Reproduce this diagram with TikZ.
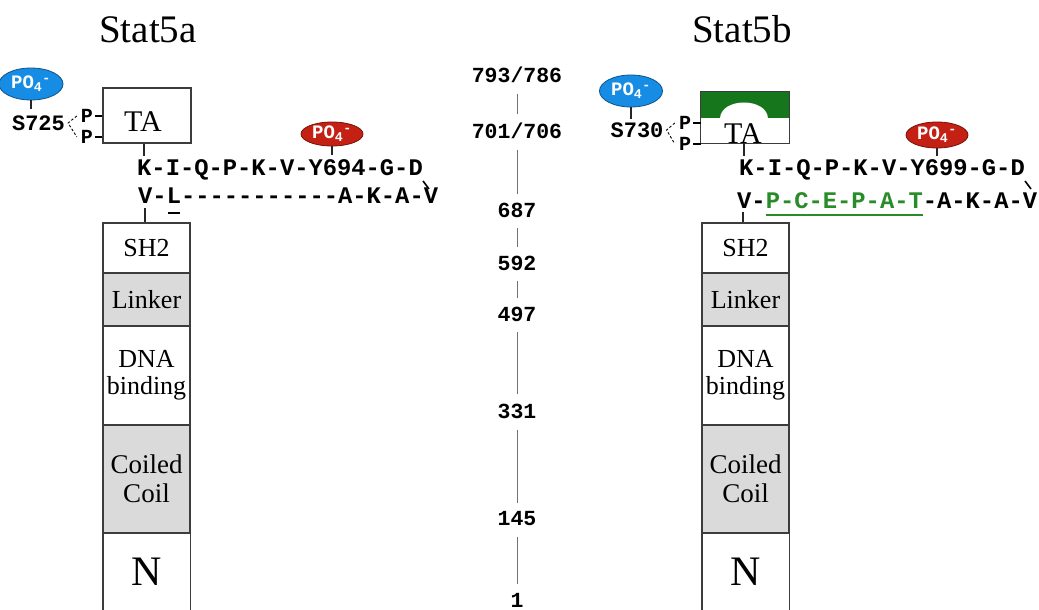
\documentclass[tikz,border=0pt]{standalone}
\usepackage{fontspec}
\setmainfont{Liberation Serif}
\setmonofont{Liberation Mono}
\usetikzlibrary{shapes.geometric,calc}
\definecolor{poblue}{RGB}{22,140,228}
\definecolor{pored}{RGB}{196,32,20}
\definecolor{tagreen}{RGB}{22,118,28}
\definecolor{seqgreen}{RGB}{40,140,40}
\definecolor{domgray}{RGB}{218,218,218}
\definecolor{edge}{RGB}{60,60,60}
\tikzset{
 title/.style={font=\fontsize{39}{44}\selectfont, inner sep=0, anchor=base},
 seq/.style={font=\fontsize{23.8}{28}\selectfont\ttfamily\bfseries, inner sep=0, anchor=base west},
 site/.style={font=\fontsize{22}{26}\selectfont\ttfamily\bfseries, inner sep=0},
 pp/.style={font=\fontsize{20}{24}\selectfont\ttfamily\bfseries, inner sep=0},
 num/.style={font=\fontsize{21.5}{26}\selectfont\ttfamily\bfseries, inner sep=0},
 dom/.style={draw=edge, line width=1.4pt, minimum width=87pt, inner sep=0, align=center, font=\fontsize{26}{27}\selectfont},
 gdom/.style={dom, fill=domgray},
 tabox/.style={draw=edge, line width=1.2pt, minimum width=88pt, inner sep=0},
 talabel/.style={font=\fontsize{30}{32}\selectfont, inner sep=0},
 phos/.style={ellipse, inner sep=0, line width=0.8pt, font=\fontsize{19}{22}\selectfont\ttfamily\bfseries, text=white},
 stem/.style={line width=1.3pt, draw=black!85},
 pdash/.style={line width=1.1pt},
 brack/.style={line width=0.9pt, dash pattern=on 2.5pt off 2pt},
 axis/.style={line width=0.9pt, draw=black!55, shorten <=11pt, shorten >=9pt},
}
\begin{document}
\begin{tikzpicture}[x=1pt,y=-1pt]
\useasboundingbox (0,0) rectangle (1039,610);
\fill[white] (0,0) rectangle (1039,610);

% titles
\node[title] (tA) at (148,43) {Stat5a};
\node[title] (tB) at (742,43) {Stat5b};

% ---------------- Stat5a ----------------
\node[phos, fill=poblue, draw=poblue!60!black, minimum width=64pt, minimum height=32pt] (pbA) at (31,84) {PO\textsubscript{4}\textsuperscript{-}};
\node[site] (sA) at (38.5,123) {S725};
\node[pp] (pA1) at (87,116) {P};
\node[pp] (pA2) at (87,137) {P};
\node[tabox, minimum height=55pt] (taA) at (147,115.5) {};
\node[talabel] (taAt) at (143,122) {TA};
\draw[stem] (pbA.south) -- ++(0,9);
\draw[brack] ([xshift=-4pt]pA1.west) -- ([xshift=3pt]sA.east) -- ([xshift=-4pt]pA2.west);
\draw[pdash] ([xshift=2pt]pA1.east) -- (pA1.east -| taA.west);
\draw[pdash] ([xshift=2pt]pA2.east) -- (pA2.east -| taA.west);

\node[seq] (qA1) at (137,175) {K-I-Q-P-K-V-Y694-G-D};
\node[seq] (qA2) at (138,203) {V-L-----------A-K-A-V};
\node[phos, fill=pored, draw=pored!60!black, minimum width=62pt, minimum height=24pt] (prA) at (332,134) {PO\textsubscript{4}\textsuperscript{-}};
\draw[stem] (prA.south) -- ++(0,9);
\coordinate (kA) at (144,156);
\draw[stem] (taA.south -| kA) -- (kA);
\draw[line width=1.6pt] (168,213) -- (180,213);
\draw[line width=1.6pt] (423,181) -- (429,189);

\node[dom, fill=white, minimum height=50pt] (sh2A) at (146.5,248) {SH2};
\node[gdom, minimum height=53pt] (lkA) at (146.5,299.5) {Linker};
\node[dom, fill=white, minimum height=99pt] (dnaA) at (146.5,375.5) {DNA\\binding};
\node[gdom, minimum height=108pt, font=\fontsize{27}{29}\selectfont] (ccA) at (146.5,479) {Coiled\\Coil};
\node[minimum width=87pt, minimum height=77pt, inner sep=0, font=\fontsize{42}{44}\selectfont] (nA) at (146.5,571.5) {N};
\draw[draw=edge, line width=1.4pt] (nA.south west) -- (nA.north west) -- (nA.north east) -- (nA.south east);
\coordinate (vA) at (145,208);
\draw[stem] (vA) -- (vA |- sh2A.north);

% ---------------- Stat5b ----------------
\node[phos, fill=poblue, draw=poblue!60!black, minimum width=63pt, minimum height=32pt] (pbB) at (631,91) {PO\textsubscript{4}\textsuperscript{-}};
\node[site] (sB) at (637,130) {S730};
\node[pp] (pB1) at (685,123) {P};
\node[pp] (pB2) at (685,144) {P};
\node[minimum width=88pt, minimum height=51pt, inner sep=0] (taB) at (745,117.5) {};
\fill[tagreen] (701,92) rectangle (789,118);
\fill[white] (720,118.5) .. controls (720,97) and (768,97) .. (768,118.5) -- cycle;
\draw[draw=edge, line width=1.2pt] (taB.north west) rectangle (taB.south east);
\node[talabel] (taBt) at (743,134) {TA};
\draw[stem] (pbB.south) -- ++(0,12);
\draw[brack] ([xshift=-4pt]pB1.west) -- ([xshift=3pt]sB.east) -- ([xshift=-4pt]pB2.west);
\draw[pdash] ([xshift=2pt]pB1.east) -- (pB1.east -| taB.west);
\draw[pdash] ([xshift=2pt]pB2.east) -- (pB2.east -| taB.west);

\node[seq] (qB1) at (739,175) {K-I-Q-P-K-V-Y699-G-D};
\node[seq] (qB2) at (737,208) {V-\textcolor{seqgreen}{P-C-E-P-A-T}-A-K-A-V};
\draw[seqgreen, line width=1.8pt] (766,215) -- (923,215);
\node[phos, fill=pored, draw=pored!60!black, minimum width=62pt, minimum height=26pt] (prB) at (937,135) {PO\textsubscript{4}\textsuperscript{-}};
\draw[stem] (prB.south) -- ++(0,8);
\coordinate (kB) at (744,156);
\draw[stem] (taB.south -| kB) -- (kB);
\draw[line width=1.6pt] (1025,181) -- (1031,189);

\node[dom, fill=white, minimum height=50pt] (sh2B) at (745.5,248) {SH2};
\node[gdom, minimum height=53pt] (lkB) at (745.5,299.5) {Linker};
\node[dom, fill=white, minimum height=99pt] (dnaB) at (745.5,375.5) {DNA\\binding};
\node[gdom, minimum height=108pt, font=\fontsize{27}{29}\selectfont] (ccB) at (745.5,479) {Coiled\\Coil};
\node[minimum width=87pt, minimum height=77pt, inner sep=0, font=\fontsize{42}{44}\selectfont] (nB) at (745.5,571.5) {N};
\draw[draw=edge, line width=1.4pt] (nB.south west) -- (nB.north west) -- (nB.north east) -- (nB.south east);
\coordinate (vB) at (743,212);
\draw[stem] (vB) -- (vB |- sh2B.north);

% ---------------- residue scale ----------------
\node[num] (n793) at (517,75) {793/786};
\node[num] (n701) at (517,131) {701/706};
\node[num] (n687) at (517,210) {687};
\node[num] (n592) at (517,263) {592};
\node[num] (n497) at (517,314) {497};
\node[num] (n331) at (517,411) {331};
\node[num] (n145) at (517,519) {145};
\node[num] (n1) at (517,600) {1};
\draw[axis] (n793) -- (n701);
\draw[axis] (n701) -- (n687);
\draw[axis] (n687) -- (n592);
\draw[axis] (n592) -- (n497);
\draw[axis] (n497) -- (n331);
\draw[axis] (n331) -- (n145);
\draw[axis] (n145) -- (n1);
\end{tikzpicture}
\end{document}
